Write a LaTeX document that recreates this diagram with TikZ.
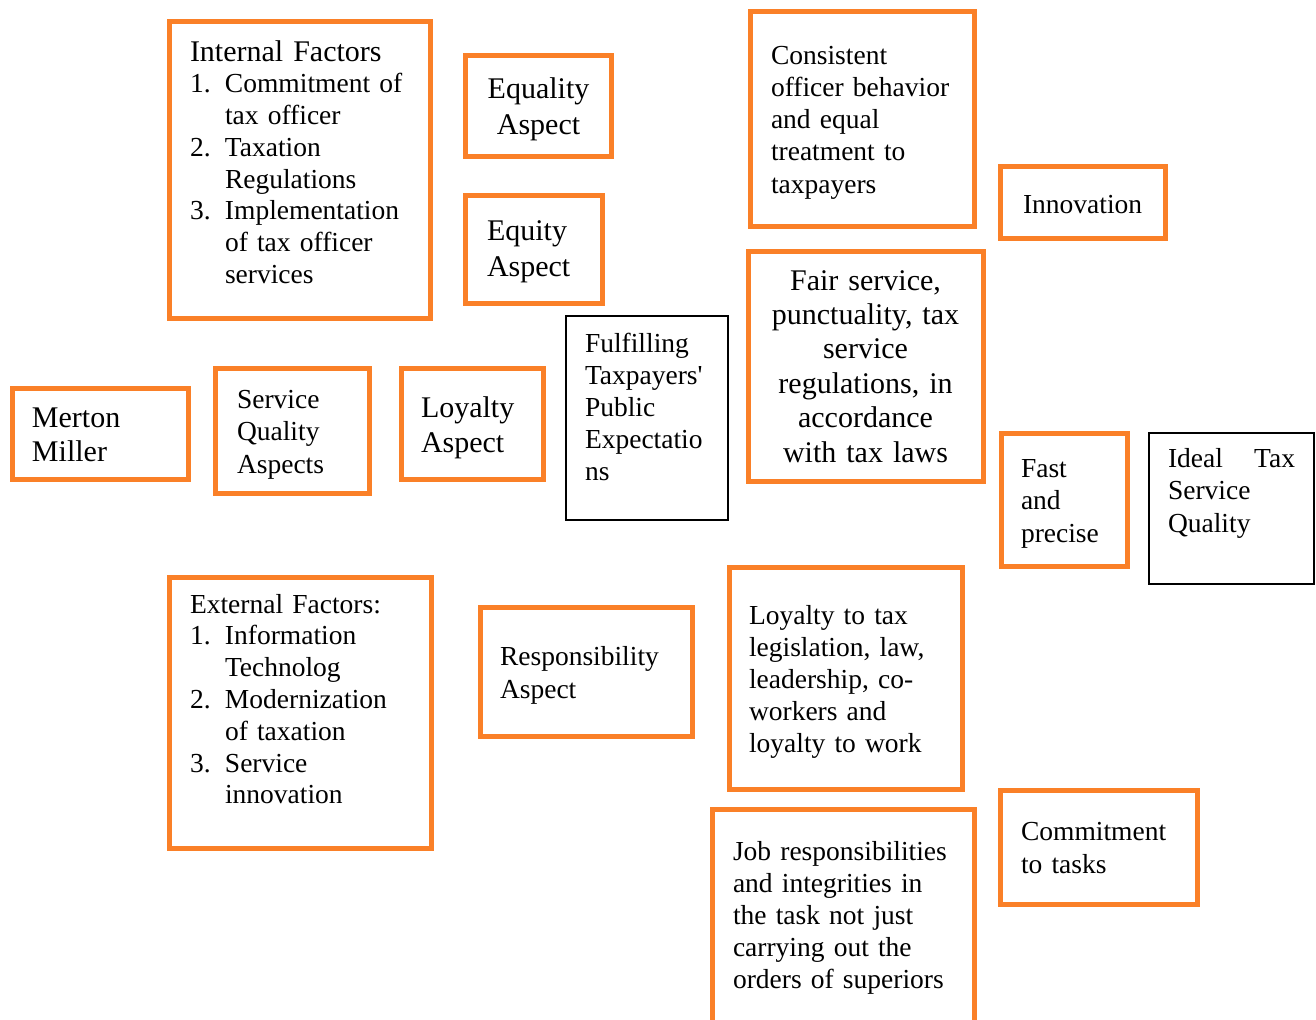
\documentclass[tikz,border=0pt]{standalone}
\usepackage{fontspec}
\setmainfont{Liberation Serif}
\definecolor{boxorange}{RGB}{250,128,40}
\begin{document}
\begin{tikzpicture}[x=0.5pt,y=-0.5pt,
  obox/.style={draw=boxorange, line width=2.5pt, rectangle, inner sep=0pt, outer sep=0pt, anchor=north west},
  kbox/.style={draw=black, line width=1pt, rectangle, inner sep=0pt, outer sep=0pt, anchor=north west},
  % left-aligned text: #1 = font size, #2 = baseline skip
  ltxt/.style 2 args={anchor=base west, inner sep=0pt, outer sep=0pt, text width=160pt, align=left,
               font=\fontsize{#1}{#2}\selectfont},
  % centred text: #1 = baseline skip, #2 = text width
  ctxt/.style 2 args={anchor=base, inner sep=0pt, outer sep=0pt, text width=#2, align=center,
               font=\fontsize{15pt}{#1}\selectfont},
]
\clip (0,0) rectangle (1316,1019);
\fill[white] (0,0) rectangle (1316,1019);

% boxes
\node[obox, minimum width=130.5pt, minimum height=148.5pt] (intf)    at (169.5,21.5) {};
\node[obox, minimum width=73pt,    minimum height=50.5pt]  (equal)   at (465.5,55.5) {};
\node[obox, minimum width=68.5pt,  minimum height=54pt]    (equity)  at (465.5,195.5) {};
\node[obox, minimum width=112pt,   minimum height=107.5pt] (consist) at (750.5,11.5) {};
\node[obox, minimum width=82.5pt,  minimum height=36pt]    (innov)   at (1000.5,166.5) {};
\node[obox, minimum width=88pt,    minimum height=45.5pt]  (merton)  at (12.5,388.5) {};
\node[obox, minimum width=77pt,    minimum height=62.5pt]  (sq)      at (215.5,368.5) {};
\node[obox, minimum width=71pt,    minimum height=55.5pt]  (loyal)   at (401.5,368.5) {};
\node[kbox, minimum width=81pt,    minimum height=102pt]   (fulfil)  at (566,316) {};
\node[obox, minimum width=117.5pt, minimum height=115pt]   (fair)    at (748,251.5) {};
\node[obox, minimum width=63pt,    minimum height=66.75pt] (fast)    at (1001,433) {};
\node[kbox, minimum width=82.5pt,  minimum height=75.5pt]  (ideal)   at (1149,433) {};
\node[obox, minimum width=131pt,   minimum height=135.5pt] (extf)    at (169.5,577.5) {};
\node[obox, minimum width=106.25pt,minimum height=64.5pt]  (resp)    at (480,607.5) {};
\node[obox, minimum width=116.5pt, minimum height=111pt]   (loytax)  at (729.5,567.5) {};
\node[obox, minimum width=131pt,   minimum height=115.25pt](job)     at (712.5,809.5) {};
\node[obox, minimum width=98.5pt,  minimum height=57pt]    (commit)  at (1000.5,790.5) {};

% texts
\node[ltxt={15pt}{15.875pt}] (intf-h) at (190,61) {Internal Factors};
\node[ltxt={13.75pt}{15.875pt}] (intf-t) at (190,92.75) {%
  \makebox[17.5pt][l]{1.}Commitment of\\
  \hspace*{17.5pt}tax officer\\
  \makebox[17.5pt][l]{2.}Taxation\\
  \hspace*{17.5pt}Regulations\\
  \makebox[17.5pt][l]{3.}Implementation\\
  \hspace*{17.5pt}of tax officer\\
  \hspace*{17.5pt}services};
\node[ctxt={18pt}{73pt}] (equal-t) at (538.5,98) {Equality\\Aspect};
\node[ltxt={15pt}{18pt}] (equity-t) at (487,240) {Equity\\Aspect};
\node[ltxt={13.75pt}{16.15pt}] (consist-t) at (771,64) {Consistent\\officer behavior\\and equal\\treatment to\\taxpayers};
\node[ltxt={13.75pt}{16pt}] (innov-t) at (1023,213) {Innovation};
\node[ltxt={15pt}{17pt}] (merton-t) at (32,427) {Merton\\Miller};
\node[ltxt={13.75pt}{16.25pt}] (sq-t) at (237,408) {Service\\Quality\\Aspects};
\node[ltxt={15pt}{17.5pt}] (loyal-t) at (421,417) {Loyalty\\Aspect};
\node[ltxt={13.75pt}{16pt}] (fulfil-t) at (585,352) {Fulfilling\\Taxpayers{\addfontfeatures{Ligatures=TeXOff}'}\\Public\\Expectatio\\ns};
\node[ctxt={17.2pt}{117.5pt}] (fair-t) at (865.5,290) {Fair service,\\punctuality, tax\\service\\regulations, in\\accordance\\with tax laws};
\node[ltxt={13.75pt}{16.25pt}] (fast-t) at (1021,477) {Fast\\and\\precise};
\node[ltxt={13.75pt}{16.25pt}] (ideal-t) at (1168,467) {\makebox[63.5pt][s]{Ideal\hfill Tax}\\Service\\Quality};
\node[ltxt={13.75pt}{15.9pt}] (extf-t) at (190,613) {External Factors:\\
  \makebox[17.5pt][l]{1.}Information\\
  \hspace*{17.5pt}Technolog\\
  \makebox[17.5pt][l]{2.}Modernization\\
  \hspace*{17.5pt}of taxation\\
  \makebox[17.5pt][l]{3.}Service\\
  \hspace*{17.5pt}innovation};
\node[ltxt={13.75pt}{16.5pt}] (resp-t) at (500,665) {Responsibility\\Aspect};
\node[ltxt={13.75pt}{16pt}] (loytax-t) at (749,624) {Loyalty to tax\\legislation, law,\\leadership, co-\\workers and\\loyalty to work};
\node[ltxt={13.75pt}{16pt}] (job-t) at (733,860) {Job responsibilities\\and integrities in\\the task not just\\carrying out the\\orders of superiors};
\node[ltxt={13.75pt}{16.5pt}] (commit-t) at (1021,840) {Commitment\\to tasks};
\end{tikzpicture}
\end{document}
